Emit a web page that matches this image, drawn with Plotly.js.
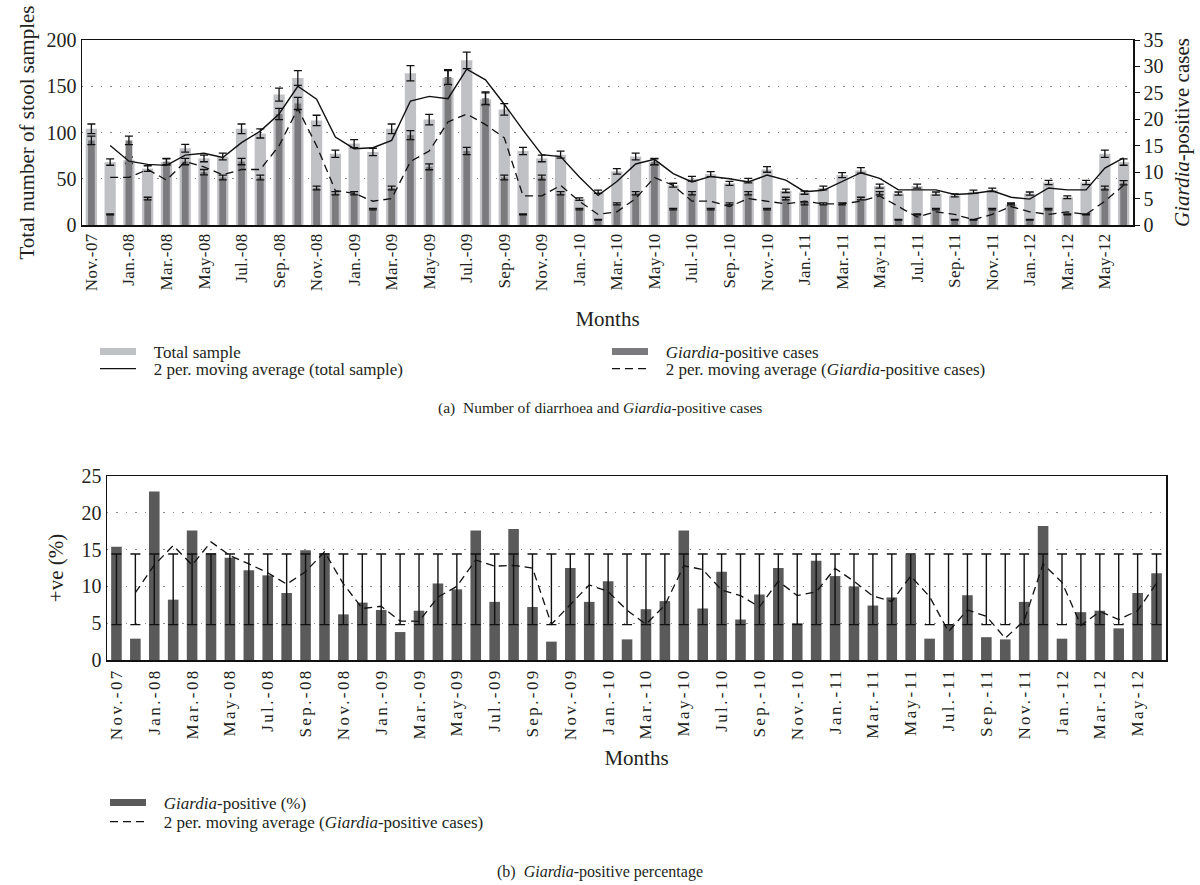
<!DOCTYPE html>
<html>
<head>
<meta charset="utf-8">
<script src="https://cdn.plot.ly/plotly-3.0.1.min.js"></script>
<style>
  html, body { margin: 0; padding: 0; background: #ffffff; }
  #chart { width: 1200px; height: 885px; }
  #chart .xtick text { letter-spacing: 0.4px; }
  #chart .x2tick text { letter-spacing: 2.4px; }
</style>
</head>
<body>
<div id="chart"></div>
<script>
// ---------------- data ----------------
const months = [
  "Nov.-07","Dec.-07",
  "Jan.-08","Feb.-08","Mar.-08","Apr.-08","May-08","Jun.-08","Jul.-08","Aug.-08","Sep.-08","Oct.-08","Nov.-08","Dec.-08",
  "Jan.-09","Feb.-09","Mar.-09","Apr.-09","May-09","Jun.-09","Jul.-09","Aug.-09","Sep.-09","Oct.-09","Nov.-09","Dec.-09",
  "Jan.-10","Feb.-10","Mar.-10","Apr.-10","May-10","Jun.-10","Jul.-10","Aug.-10","Sep.-10","Oct.-10","Nov.-10","Dec.-10",
  "Jan.-11","Feb.-11","Mar.-11","Apr.-11","May-11","Jun.-11","Jul.-11","Aug.-11","Sep.-11","Oct.-11","Nov.-11","Dec.-11",
  "Jan.-12","Feb.-12","Mar.-12","Apr.-12","May-12","Jun.-12"
];

// total number of stool samples per month
const totalSamples = [
  104, 68, 70, 61, 68, 83, 72, 74, 104, 99,
  141, 159, 113, 77, 88, 79, 104, 164, 114, 159,
  178, 136, 125, 80, 72, 76, 28, 36, 58, 74,
  68, 43, 50, 55, 45, 48, 60, 37, 35, 40,
  54, 59, 42, 34, 42, 34, 32, 36, 38, 22,
  34, 46, 30, 46, 77, 68
];

// Giardia-positive cases per month
const giardiaCases = [
  16, 2, 16, 5, 12, 12, 10, 9, 12, 9,
  21, 23, 7, 6, 6, 3, 7, 17, 11, 28,
  14, 24, 9, 2, 9, 6, 3, 1, 4, 6,
  12, 3, 6, 3, 4, 6, 3, 5, 4, 4,
  4, 5, 6, 1, 2, 3, 1, 1, 3, 4,
  1, 3, 2, 2, 7, 8
];

// Giardia-positive percentage per month (panel b)
const giardiaPct = [
  15.4, 2.9, 22.9, 8.2, 17.6, 14.5, 13.9, 12.2, 11.5, 9.1,
  14.9, 14.5, 6.2, 7.8, 6.8, 3.8, 6.7, 10.4, 9.6, 17.6,
  7.9, 17.8, 7.2, 2.5, 12.5, 7.9, 10.7, 2.8, 6.9, 8.0,
  17.6, 7.0, 12.0, 5.5, 8.9, 12.5, 5.0, 13.5, 11.4, 10.0,
  7.4, 8.5, 14.3, 2.9, 4.8, 8.8, 3.1, 2.8, 7.9, 18.2,
  2.9, 6.5, 6.7, 4.3, 9.1, 11.8
];

// error bars: +/-5 % on panel (a) bars; panel (b) standard-deviation bars about the series mean
const errPercentA = 5;
const pctMean = 9.6;
const pctSd = 4.8;

// tick labels shown (every other month)
const tickMonths = months.filter((m, i) => i % 2 === 0);

// 2-period moving average, as in the original chart
function movingAvg2(a) {
  return a.map((v, i) => i === 0 ? null : (a[i - 1] + v) / 2);
}

// ---------------- styles ----------------
const FONT = "'Liberation Serif', 'Times New Roman', serif";
const TXT = '#231f20';
const LIGHT = '#c0c1c5';
const MID = '#7b7b7d';
const DARK = '#5a5a5a';
const GRID = '#8a8a8a';
const W = 1200, H = 885;
const px = v => v / W;
const py = v => 1 - v / H;
const catRange = [-0.5, months.length - 0.5];
const PAD = '\u00a0\u00a0\u00a0';   // gap between legend swatch and legend text

const errStyle = { color: '#111', thickness: 1.3, width: 4 };

const traces = [
  // ----- panel (a)
  {
    type: 'bar', x: months, y: totalSamples, xaxis: 'x', yaxis: 'y',
    width: 0.6, marker: { color: LIGHT }, name: 'Total sample', showlegend: false,
    error_y: Object.assign({ type: 'percent', value: errPercentA, visible: true }, errStyle)
  },
  {
    type: 'bar', x: months, y: giardiaCases, xaxis: 'x', yaxis: 'y3',
    width: 0.36, marker: { color: MID }, name: 'Giardia-positive cases', showlegend: false,
    error_y: Object.assign({ type: 'percent', value: errPercentA, visible: true }, errStyle)
  },
  {
    type: 'scatter', mode: 'lines', x: months, y: movingAvg2(giardiaCases), xaxis: 'x', yaxis: 'y3',
    line: { color: '#111', width: 1.3, dash: '8px,5px' },
    name: '2 per. moving average (Giardia-positive cases)', showlegend: false
  },
  {
    type: 'scatter', mode: 'lines', x: months, y: movingAvg2(totalSamples), xaxis: 'x', yaxis: 'y4',
    line: { color: '#111', width: 1.4 },
    name: '2 per. moving average (total sample)', showlegend: false
  },
  // ----- panel (b)
  {
    type: 'bar', x: months, y: giardiaPct, xaxis: 'x2', yaxis: 'y2',
    width: 0.56, marker: { color: DARK }, name: 'Giardia-positive (%)', showlegend: false
  },
  {
    type: 'scatter', mode: 'markers', x: months, y: months.map(() => pctMean), xaxis: 'x2', yaxis: 'y2',
    marker: { size: 1, opacity: 0 }, showlegend: false, hoverinfo: 'skip', cliponaxis: false,
    error_y: { type: 'constant', value: pctSd, visible: true, color: '#111', thickness: 1.4, width: 5 }
  },
  {
    type: 'scatter', mode: 'lines', x: months, y: movingAvg2(giardiaPct), xaxis: 'x2', yaxis: 'y2',
    line: { color: '#111', width: 1.3, dash: '8px,5px' },
    name: '2 per. moving average (Giardia-positive cases)', showlegend: false
  },
  // ----- legend entries (swatches only, no data)
  { type: 'scatter', mode: 'lines', x: [null], y: [null], xaxis: 'x', yaxis: 'y', legend: 'legend',
    line: { color: LIGHT, width: 7 }, name: PAD + 'Total sample' },
  { type: 'scatter', mode: 'lines', x: [null], y: [null], xaxis: 'x', yaxis: 'y', legend: 'legend2',
    line: { color: '#111', width: 1.3 }, name: PAD + '2 per. moving average (total sample)' },
  { type: 'scatter', mode: 'lines', x: [null], y: [null], xaxis: 'x', yaxis: 'y', legend: 'legend3',
    line: { color: MID, width: 7 }, name: PAD + '<i>Giardia</i>-positive cases' },
  { type: 'scatter', mode: 'lines', x: [null], y: [null], xaxis: 'x', yaxis: 'y', legend: 'legend4',
    line: { color: '#111', width: 1.3, dash: '8px,5px' }, name: PAD + '2 per. moving average (<i>Giardia</i>-positive cases)' },
  { type: 'scatter', mode: 'lines', x: [null], y: [null], xaxis: 'x', yaxis: 'y', legend: 'legend5',
    line: { color: DARK, width: 7 }, name: PAD + '<i>Giardia</i>-positive (%)' },
  { type: 'scatter', mode: 'lines', x: [null], y: [null], xaxis: 'x', yaxis: 'y', legend: 'legend6',
    line: { color: '#111', width: 1.3, dash: '8px,5px' }, name: PAD + '2 per. moving average (<i>Giardia</i>-positive cases)' }
];

const axisLine = { showline: true, linecolor: '#111', linewidth: 1.5 };
const yTickFont = { family: FONT, size: 20, color: TXT };
const xTickFont = { family: FONT, size: 17, color: TXT };
const titleFont = { family: FONT, size: 21, color: TXT };
const gridDots = { showgrid: true, gridcolor: GRID, gridwidth: 1.4, griddash: '1.4px,8px' };

const legendBase = {
  xanchor: 'left', yanchor: 'middle', bgcolor: 'rgba(0,0,0,0)', borderwidth: 0, itemwidth: 36,
  font: { family: FONT, size: 17, color: TXT }, tracegroupgap: 0, itemclick: false, itemdoubleclick: false
};
const leg = (x, y) => Object.assign({ x: px(x), y: py(y) }, legendBase);

const layout = {
  width: W, height: H,
  margin: { l: 0, r: 0, t: 0, b: 0 },
  paper_bgcolor: '#ffffff', plot_bgcolor: '#ffffff',
  font: { family: FONT, size: 16, color: TXT },
  barmode: 'overlay',
  hovermode: false,
  xaxis: Object.assign({
    domain: [px(82), px(1133)], anchor: 'y', type: 'category', range: catRange,
    tickmode: 'array', tickvals: tickMonths, ticktext: tickMonths, tickangle: -90,
    ticks: '', mirror: true, showgrid: false, tickfont: xTickFont,
    title: { text: 'Months', font: titleFont, standoff: 24 }
  }, axisLine),
  yaxis: Object.assign({
    domain: [py(225), py(40)], anchor: 'x', range: [0, 200], dtick: 50, zeroline: false,
    ticks: '', tickfont: yTickFont,
    title: { text: 'Total number of stool samples', font: titleFont, standoff: 6 }
  }, axisLine, gridDots),
  yaxis3: Object.assign({
    overlaying: 'y', side: 'right', anchor: 'x', range: [0, 35], dtick: 5, zeroline: false,
    showgrid: false, ticks: 'outside', ticklen: 5, tickcolor: '#111', tickfont: yTickFont,
    title: { text: '<i>Giardia</i>-positive cases', font: titleFont, standoff: 12 }
  }, axisLine),
  yaxis4: { overlaying: 'y', anchor: 'x', range: [0, 200], visible: false, showgrid: false, zeroline: false },
  xaxis2: Object.assign({
    domain: [px(107), px(1166)], anchor: 'y2', type: 'category', range: catRange,
    tickmode: 'array', tickvals: tickMonths, ticktext: tickMonths, tickangle: -90,
    ticks: '', mirror: true, showgrid: false, tickfont: xTickFont,
    title: { text: 'Months', font: titleFont, standoff: 28 }
  }, axisLine),
  yaxis2: Object.assign({
    domain: [py(660), py(476)], anchor: 'x2', range: [0, 25], dtick: 5, zeroline: false,
    ticks: '', tickfont: yTickFont, mirror: true,
    title: { text: '+ve (%)', font: titleFont, standoff: 12 }
  }, axisLine, gridDots),
  legend: leg(95, 352),
  legend2: leg(95, 369),
  legend3: leg(607, 352),
  legend4: leg(607, 369),
  legend5: leg(105, 803),
  legend6: leg(105, 822),
  annotations: [
    { xref: 'paper', yref: 'paper', x: 0.5, y: py(408), xanchor: 'center', yanchor: 'middle', showarrow: false,
      text: '(a)  Number of diarrhoea and <i>Giardia</i>-positive cases', font: { family: FONT, size: 15.5, color: TXT } },
    { xref: 'paper', yref: 'paper', x: 0.5, y: py(872), xanchor: 'center', yanchor: 'middle', showarrow: false,
      text: '(b)  <i>Giardia</i>-positive percentage', font: { family: FONT, size: 16, color: TXT } }
  ]
};

Plotly.newPlot('chart', traces, layout, { displayModeBar: false, staticPlot: true });
</script>
</body>
</html>
